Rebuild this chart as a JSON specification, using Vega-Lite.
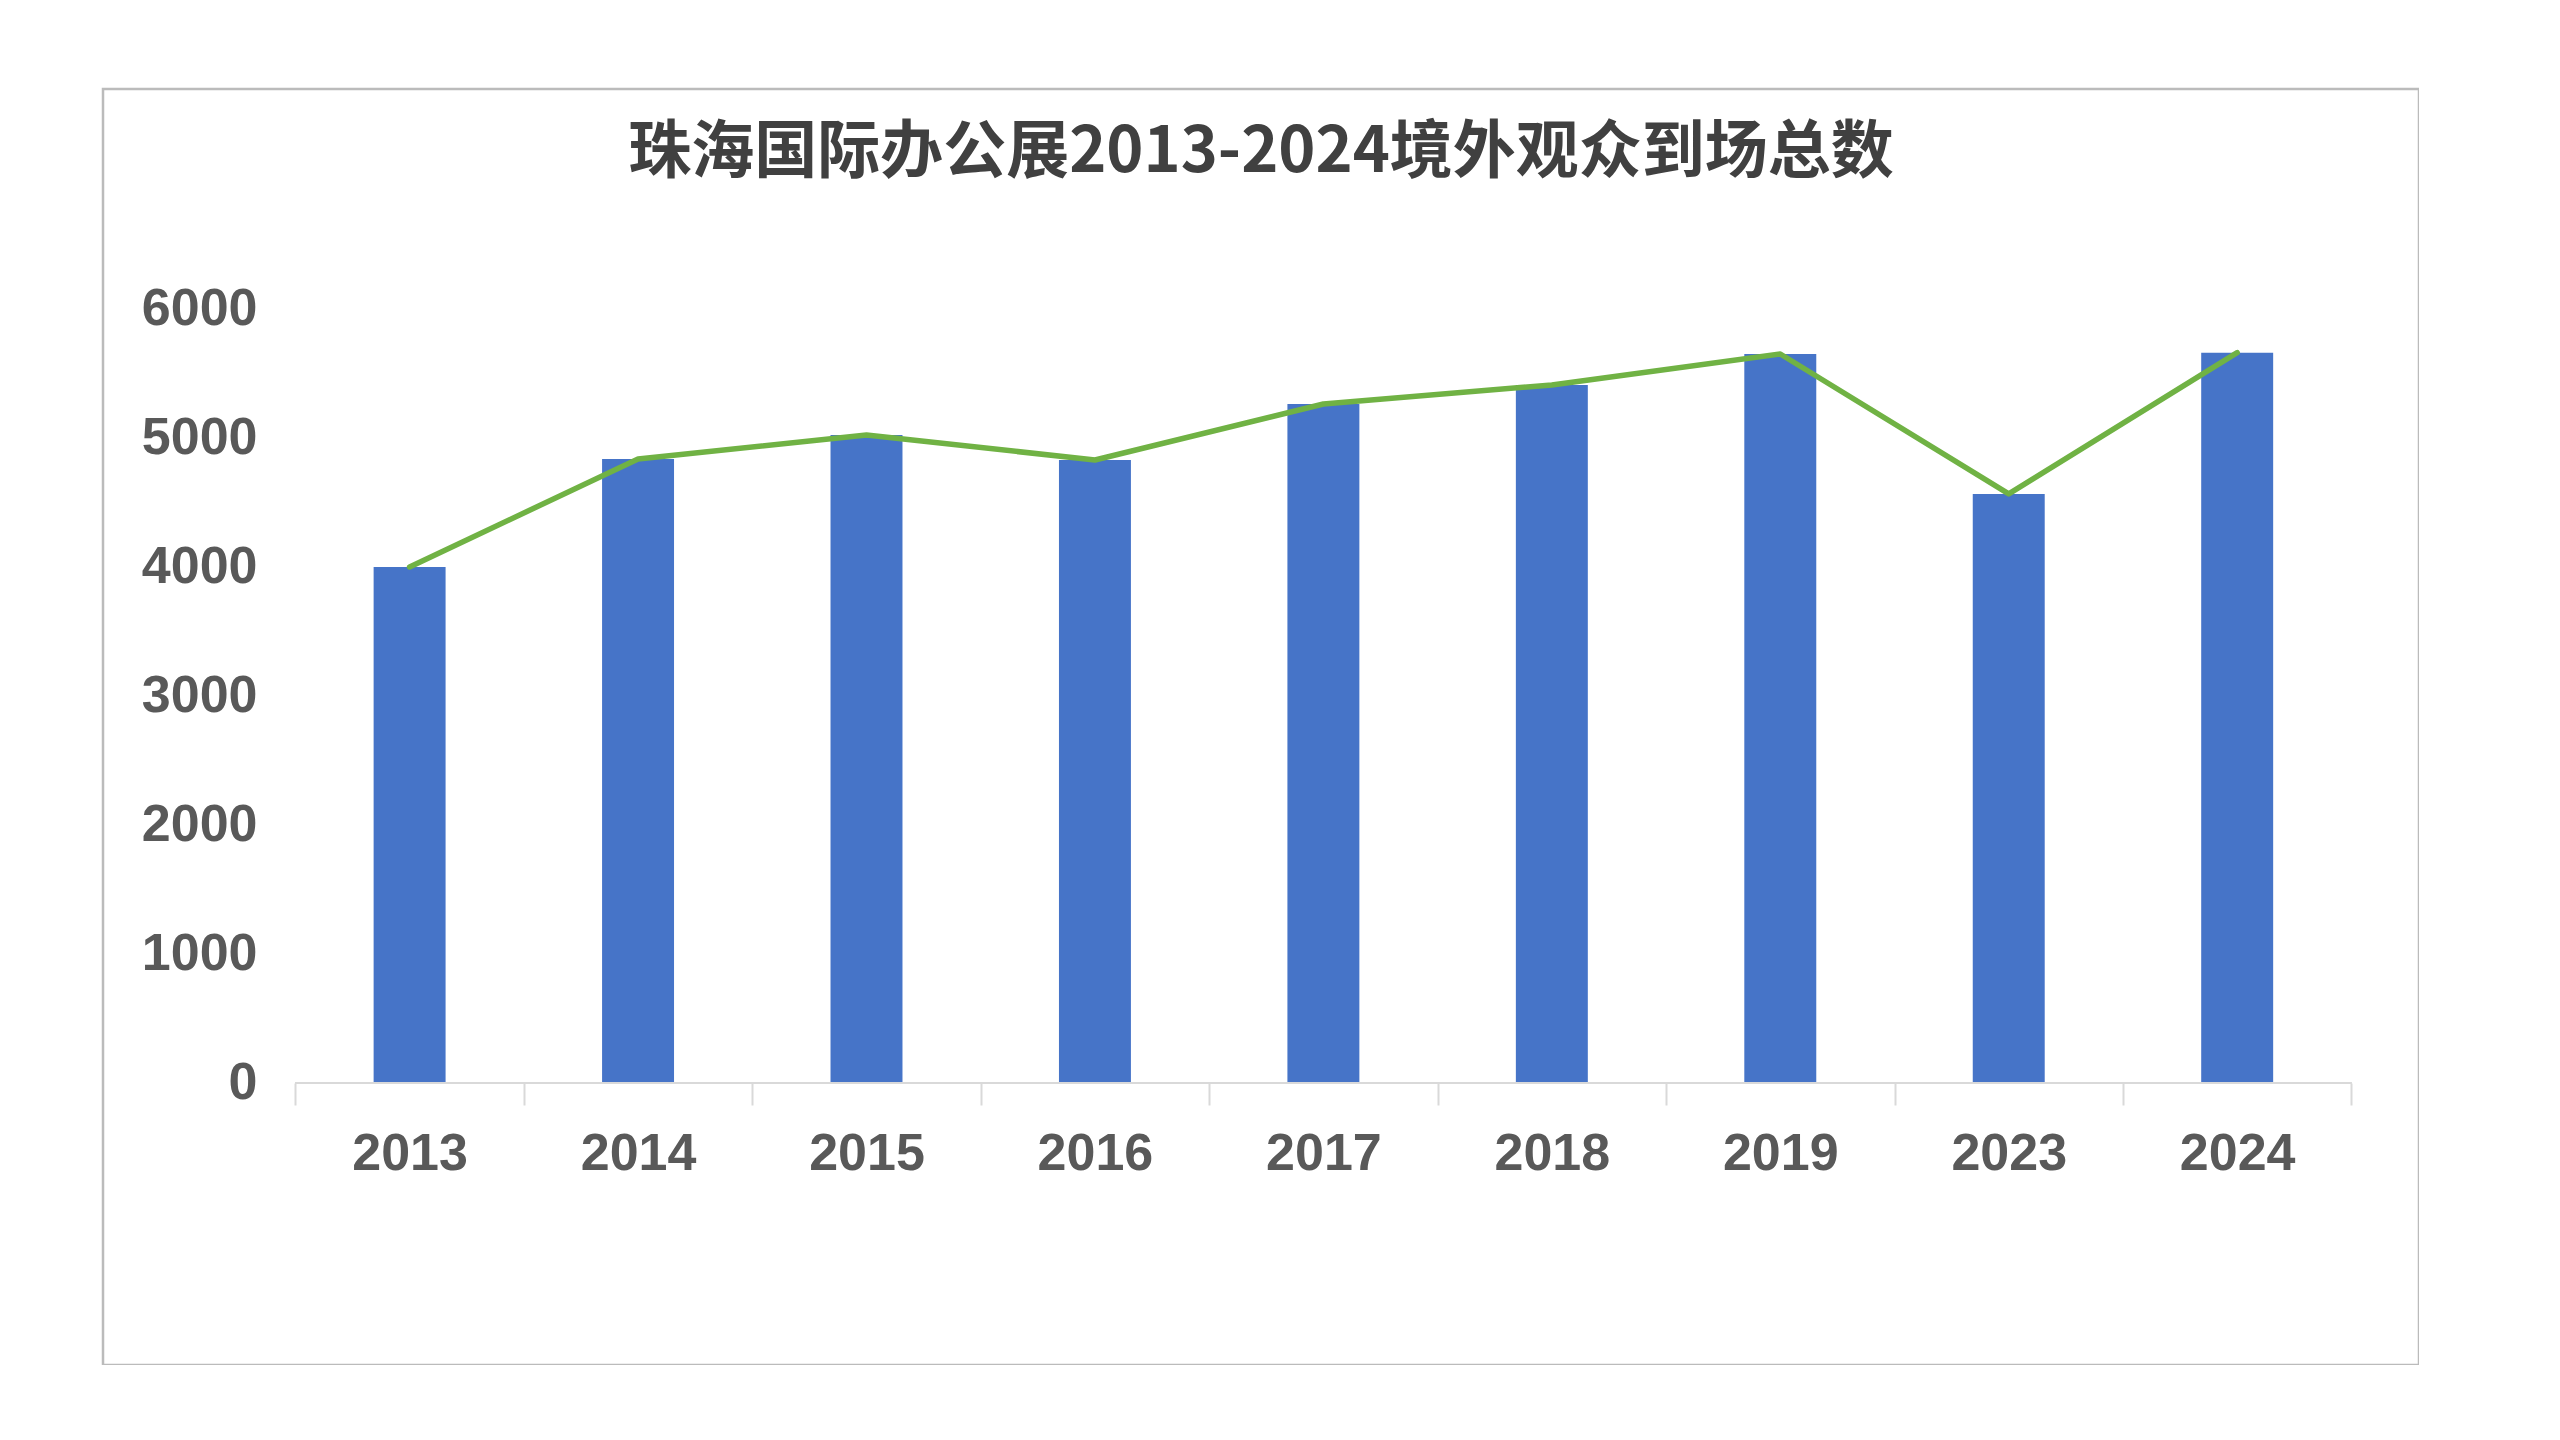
{
  "$schema": "https://vega.github.io/schema/vega-lite/v6.json",
  "width": 2316,
  "height": 1276,
  "autosize": {"type": "none"},
  "padding": {"left": 103, "top": 89, "right": 0, "bottom": 0},
  "background": "white",
  "config": {"view": {"stroke": "#BBBBBB", "strokeWidth": 2.5}},
  "title": {
    "text": "珠海国际办公展2013-2024境外观众到场总数",
    "font": "Noto Sans CJK SC",
    "fontSize": 63,
    "fontWeight": "bold",
    "color": "#404040",
    "anchor": "middle",
    "frame": "group",
    "baseline": "alphabetic",
    "offset": -146
  },
  "data": {
    "values": [
      {"year": "2013", "visitors": 4000},
      {"year": "2014", "visitors": 4837},
      {"year": "2015", "visitors": 5023},
      {"year": "2016", "visitors": 4829},
      {"year": "2017", "visitors": 5263},
      {"year": "2018", "visitors": 5411},
      {"year": "2019", "visitors": 5651},
      {"year": "2023", "visitors": 4566},
      {"year": "2024", "visitors": 5661}
    ]
  },
  "encoding": {
    "x": {
      "field": "year",
      "type": "ordinal",
      "sort": null,
      "scale": {"paddingInner": 0, "paddingOuter": 0.569, "align": 0.74},
      "axis": {
        "orient": "bottom",
        "offset": -282,
        "domain": false,
        "grid": false,
        "tickBand": "extent",
        "tickSize": 22,
        "tickColor": "#D9D9D9",
        "tickWidth": 2,
        "labelFont": "Liberation Sans",
        "labelFontSize": 52,
        "labelFontWeight": "bold",
        "labelColor": "#595959",
        "labelPadding": 23,
        "labelAngle": 0,
        "title": null
      }
    }
  },
  "layer": [
    {
      "mark": {"type": "bar", "color": "#4674C8", "width": {"band": 0.315}},
      "encoding": {
        "y": {
          "field": "visitors",
          "type": "quantitative",
          "scale": {"domain": [-2186, 7705], "nice": false, "zero": false},
          "axis": {
            "orient": "left",
            "offset": -154,
            "domain": false,
            "ticks": false,
            "tickSize": 0,
            "labelPadding": 0,
            "grid": false,
            "format": "d",
            "values": [0, 1000, 2000, 3000, 4000, 5000, 6000],
            "labelFont": "Liberation Sans",
            "labelFontSize": 52,
            "labelFontWeight": "bold",
            "labelColor": "#595959",
            "title": null
          }
        },
        "y2": {"datum": 0}
      }
    },
    {
      "mark": {"type": "rule", "color": "#D9D9D9", "strokeWidth": 2},
      "encoding": {
        "x": {"datum": "2013", "bandPosition": 0},
        "x2": {"datum": "2024", "bandPosition": 1},
        "y": {"datum": 0, "type": "quantitative"}
      }
    },
    {
      "mark": {"type": "line", "color": "#70B244", "strokeWidth": 5.5, "strokeCap": "round", "strokeJoin": "round"},
      "encoding": {
        "y": {"field": "visitors", "type": "quantitative"}
      }
    }
  ]
}
